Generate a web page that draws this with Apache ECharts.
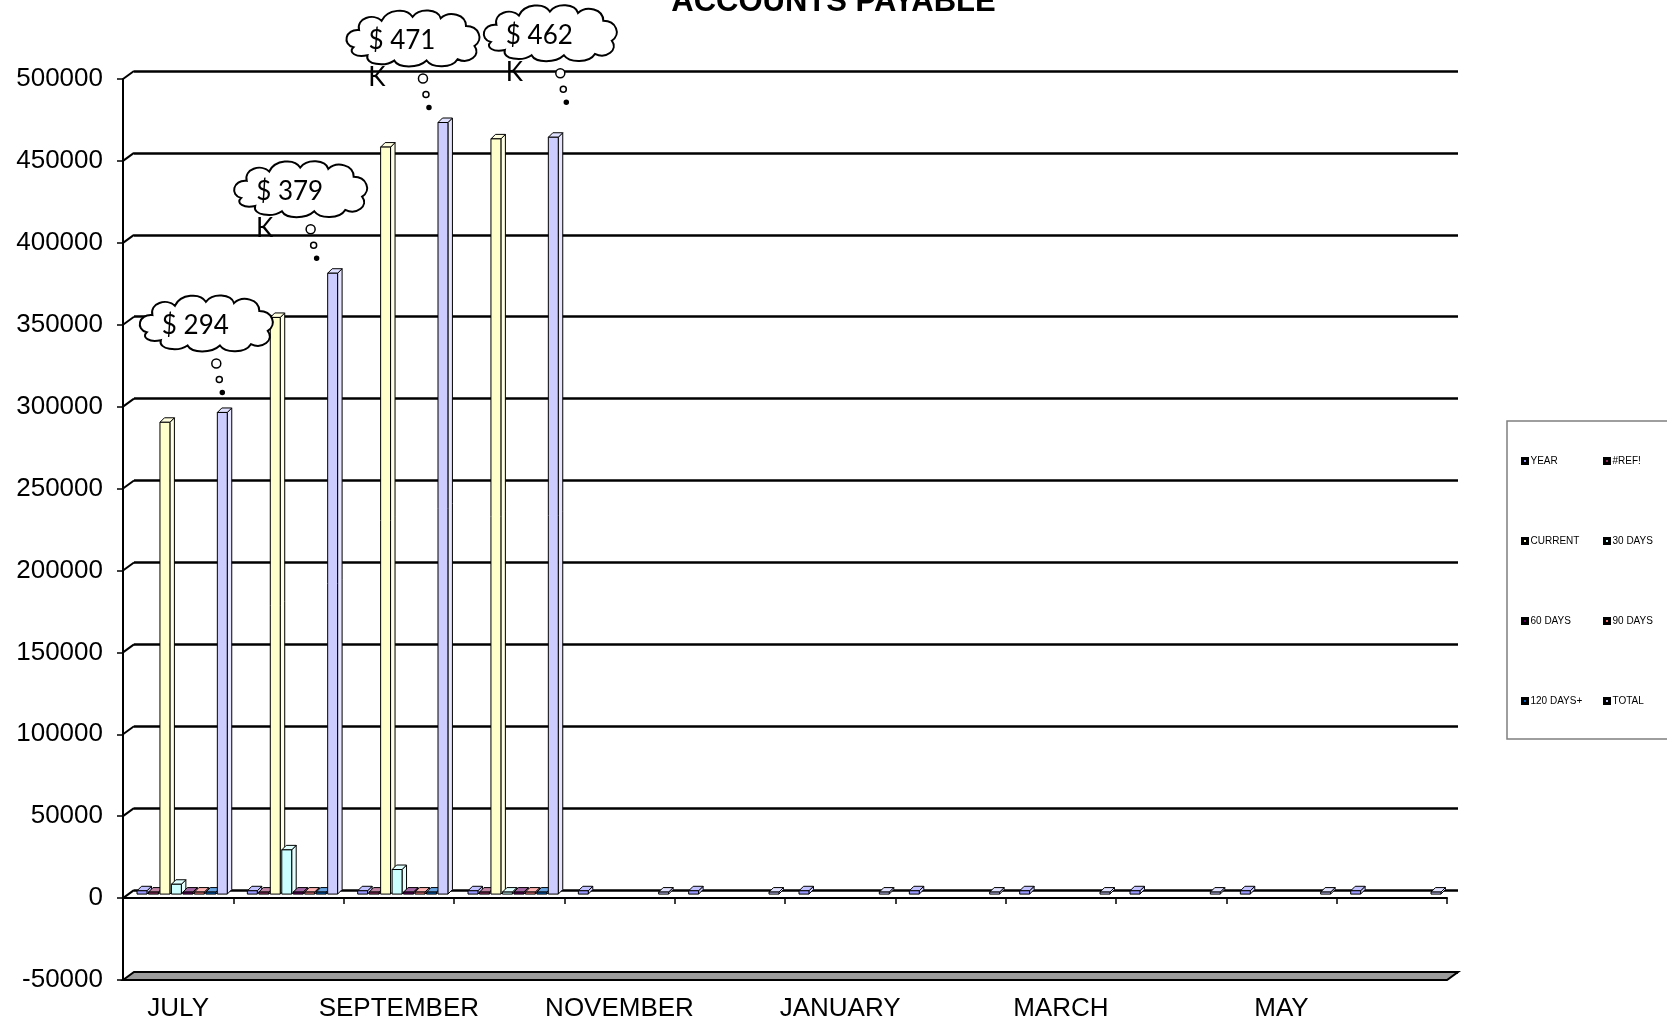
<!DOCTYPE html>
<html>
<head>
<meta charset="utf-8">
<title>Accounts Payable</title>
<script src="https://cdn.jsdelivr.net/npm/echarts@6/dist/echarts.min.js"></script>
<style>
  html, body { margin: 0; padding: 0; background: #fff; }
  #main { width: 1667px; height: 1026px; }
</style>
</head>
<body>
<div id="main"></div>
<script>
// data
const months = ["JULY", "AUGUST", "SEPTEMBER", "OCTOBER", "NOVEMBER", "DECEMBER",
  "JANUARY", "FEBRUARY", "MARCH", "APRIL", "MAY", "JUNE"];
const seriesNames = ["YEAR", "#REF!", "CURRENT", "30 DAYS", "60 DAYS", "90 DAYS", "120 DAYS+", "TOTAL"];
const yearVals = [2011, 2011, 2011, 2011, 2011, 2011, 2011, 2011, 2011, 2011, 2011, 2011];
const refVals = [0, 0, 0, 0, null, null, null, null, null, null, null, null];
const currentVals = [288000, 352000, 456000, 461000, null, null, null, null, null, null, null, null];
const days30Vals = [6000, 27000, 15000, 1000, null, null, null, null, null, null, null, null];
const days60Vals = [0, 0, 0, 0, null, null, null, null, null, null, null, null];
const days90Vals = [0, 0, 0, 0, null, null, null, null, null, null, null, null];
const days120Vals = [0, 0, 0, 0, null, null, null, null, null, null, null, null];
const totalVals = [294000, 379000, 471000, 462000, 0, 0, 0, 0, 0, 0, 0, 0];
const yMin = -50000, yMax = 500000, yStep = 50000;
const calloutMonths = ["JULY", "AUGUST", "SEPTEMBER", "OCTOBER"];
const calloutHasK = [false, true, true, true];

// styles
const colors = ["#9999FF", "#993366", "#FFFFCC", "#CCFFFF", "#660066", "#FF8080", "#0066CC", "#CCCCFF"];
const allVals = [yearVals, refVals, currentVals, days30Vals, days60Vals, days90Vals, days120Vals, totalVals];
const depth = [11, -8];       // back wall shift
const barShift = [0, -4];     // bars stand mid-depth
const barD = 4.5;             // bar side depth
const cloudOffsets = [[-16, -89], [-32, -84], [-30, -84], [-3, -104]];
const axisFont = "Liberation Sans, Arial, sans-serif";
const cloudFont = "26px Lato, 'Open Sans', sans-serif";

const chart = echarts.init(document.getElementById("main"));

function slotX(centerX, band, slot) {
  return centerX - band / 2 + band * (0.172 + 0.104 * slot) + barShift[0];
}

function barRender(slot) {
  return function (params, api) {
    const cat = api.value(0), v = api.value(1);
    const base = api.coord([cat, 0]);
    const top = api.coord([cat, v]);
    const band = api.size([1, 0])[0];
    const w = band * 0.09;
    const x0 = slotX(base[0], band, slot) - w / 2;
    const yb = base[1] + barShift[1];
    let yt = top[1] + barShift[1];
    if (yb - yt < 2) yt = yb - 2;
    const c = colors[slot];
    const line = { stroke: "#000", lineWidth: 1 };
    return {
      type: "group",
      children: [
        { type: "polygon", shape: { points: [[x0 + w, yt], [x0 + w + barD, yt - barD], [x0 + w + barD, yb - barD], [x0 + w, yb]] },
          style: Object.assign({ fill: echarts.color.lift(c, 0.5) }, line) },
        { type: "polygon", shape: { points: [[x0, yt], [x0 + barD, yt - barD], [x0 + w + barD, yt - barD], [x0 + w, yt]] },
          style: Object.assign({ fill: echarts.color.lift(c, 0.4) }, line) },
        { type: "rect", shape: { x: x0, y: yt, width: w, height: yb - yt },
          style: Object.assign({ fill: c }, line) }
      ]
    };
  };
}

const cloudPath = "M8 30 C0 28 2 16 12 17 C10 8 22 4 28 10 C32 1 46 0 50 7 C55 0 68 1 70 8 " +
  "C76 2 88 5 88 14 C97 14 101 24 94 29 C99 36 90 43 82 39 C78 46 64 46 60 40 " +
  "C54 46 40 46 37 40 C30 45 16 43 18 36 C10 38 4 34 8 30 Z";

function calloutRender(params, api) {
  const cat = api.value(0), v = api.value(1), k = api.value(2);
  const top = api.coord([cat, v]);
  const band = api.size([1, 0])[0];
  const bx = slotX(top[0], band, 7);
  const by = top[1] + barShift[1];
  const cx = bx + cloudOffsets[k][0], cy = by + cloudOffsets[k][1];
  const w = 133, h = 56;
  const children = [
    { type: "path", shape: { pathData: cloudPath, x: cx - w / 2, y: cy - h / 2, width: w, height: h, layout: "cover" },
      style: { fill: "#fff", stroke: "#000", lineWidth: 2 } },
    { type: "text", x: cx - 11, y: cy + 2,
      style: { text: "$ " + Math.round(v / 1000), font: cloudFont, fill: "#000", align: "center", verticalAlign: "middle" } }
  ];
  if (calloutHasK[k]) {
    children.push({ type: "text", x: cx - 36, y: cy + 39,
      style: { text: "K", font: cloudFont, fill: "#000", align: "center", verticalAlign: "middle" } });
  }
  [[10, 40, 4.5], [13, 56, 3], [16, 69, 2]].forEach(function (b) {
    children.push({ type: "circle", shape: { cx: cx + b[0], cy: cy + b[1], r: b[2] },
      style: { fill: b[2] < 2.5 ? "#000" : "#fff", stroke: "#000", lineWidth: 1.5 } });
  });
  return { type: "group", children: children };
}

const series = seriesNames.map(function (name, s) {
  const data = [];
  allVals[s].forEach(function (v, i) { if (v !== null) data.push([i, v]); });
  return {
    name: name,
    type: "custom",
    xAxisIndex: 0,
    yAxisIndex: 0,
    itemStyle: { color: colors[s] },
    renderItem: barRender(s),
    clip: false,
    z: 5,
    data: data
  };
});

series.push({
  name: "callouts",
  type: "custom",
  xAxisIndex: 0,
  yAxisIndex: 0,
  renderItem: calloutRender,
  clip: false,
  silent: true,
  z: 100,
  data: calloutMonths.map(function (m, k) {
    const i = months.indexOf(m);
    return [i, totalVals[i], k];
  })
});

const legendCommon = {
  orient: "vertical", top: 451, itemGap: 70,
  itemWidth: 5, itemHeight: 5, icon: "rect",
  itemStyle: { borderColor: "#000", borderWidth: 3 },
  textStyle: { fontFamily: axisFont, fontSize: 10, color: "#000", padding: [0, 0, 0, -2] }
};

const option = {
  animation: false,
  backgroundColor: "#fff",
  title: {
    text: "ACCOUNTS PAYABLE",
    left: "center",
    top: -18,
    textStyle: { fontFamily: axisFont, fontSize: 31, fontWeight: "bold", color: "#000" }
  },
  legend: [
    Object.assign({ data: ["YEAR", "CURRENT", "60 DAYS", "120 DAYS+"], left: 1516 }, legendCommon),
    Object.assign({ data: ["#REF!", "30 DAYS", "90 DAYS", "TOTAL"], left: 1598 }, legendCommon)
  ],
  grid: [
    { left: 123, right: 220, top: 79, bottom: 46, outerBoundsMode: "none" },
    { left: 123 + depth[0], right: 220 - depth[0], top: 79 + depth[1], bottom: 46 - depth[1], outerBoundsMode: "none" }
  ],
  xAxis: [
    {
      type: "category", gridIndex: 0, data: months,
      axisLine: { onZero: true, lineStyle: { color: "#000", width: 2 } },
      axisTick: { show: true, length: 6, lineStyle: { color: "#000", width: 1.5 } },
      axisLabel: { show: false },
      splitLine: { show: false }
    },
    {
      type: "category", gridIndex: 1, data: months, show: false
    },
    {
      type: "category", gridIndex: 0, data: months, position: "bottom",
      axisLine: { show: false, onZero: false },
      axisTick: { show: false },
      axisLabel: { interval: 1, margin: 16, fontFamily: axisFont, fontSize: 26, color: "#000" },
      splitLine: { show: false }
    }
  ],
  yAxis: [
    {
      type: "value", gridIndex: 0, min: yMin, max: yMax, interval: yStep,
      axisLine: { show: true, lineStyle: { color: "#000", width: 2 } },
      axisTick: { show: true, length: 6, lineStyle: { color: "#000", width: 1.5 } },
      axisLabel: { margin: 20, fontFamily: axisFont, fontSize: 26, color: "#000",
        formatter: function (v) { return String(v); } },
      splitLine: { show: false }
    },
    {
      type: "value", gridIndex: 1, min: yMin, max: yMax, interval: yStep,
      axisLine: { show: false }, axisTick: { show: false }, axisLabel: { show: false },
      splitLine: { show: true, lineStyle: { color: "#000", width: 2.5 } }
    }
  ],
  series: series
};

chart.setOption(option);

// left-wall slants, floor slab and legend frame, placed through the axes
function px(cat, v) {
  return chart.convertToPixel({ xAxisIndex: 0, yAxisIndex: 0 }, [cat, v]);
}
const p0 = px(0, 0), p1 = px(1, 0);
const band = p1[0] - p0[0];
const leftX = p0[0] - band / 2;
const rightX = leftX + band * months.length;
const graphics = [];

for (let v = yMin + yStep; v <= yMax; v += yStep) {
  const y = px(0, v)[1];
  graphics.push({
    type: "line", z: 3,
    shape: { x1: leftX, y1: y, x2: leftX + depth[0], y2: y + depth[1] },
    style: { stroke: "#000", lineWidth: 2 }
  });
}
const yF = px(0, yMin)[1];
graphics.push({
  type: "polygon", z: 4,
  shape: { points: [[leftX, yF], [leftX + depth[0], yF + depth[1]], [rightX + depth[0], yF + depth[1]], [rightX, yF]] },
  style: { fill: "#9c9c9c", stroke: "#000", lineWidth: 2 }
});
graphics.push({
  type: "rect", z: 0,
  shape: { x: 1507, y: 421, width: 200, height: 318 },
  style: { fill: "#fff", stroke: "#7f7f7f", lineWidth: 1.5 }
});

chart.setOption({ graphic: graphics });
</script>
</body>
</html>
